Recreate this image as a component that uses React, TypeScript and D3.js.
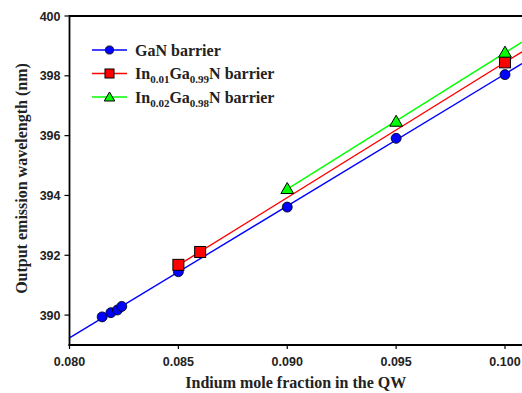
import React from 'react';
import * as d3 from 'd3';

// data
const ganX = [0.0815, 0.0819, 0.0822, 0.0824, 0.085, 0.090, 0.095, 0.100];
const ganY = [389.94, 390.08, 390.17, 390.29, 391.45, 393.61, 395.91, 398.04];
const in01X = [0.085, 0.086, 0.100];
const in01Y = [391.68, 392.11, 398.45];
const in02X = [0.090, 0.095, 0.100];
const in02Y = [394.22, 396.47, 398.78];
const xTicks = [0.080, 0.085, 0.090, 0.095, 0.100];
const yTicks = [390, 392, 394, 396, 398, 400];

const W = 522, H = 393;
const m = { left: 69.5, top: 16, right: 0, bottom: 48 };

type Series = { xs: number[]; ys: number[]; color: string; shape: string; sub: string[] | null; from: number | null };

const series: Series[] = [
  { xs: ganX, ys: ganY, color: '#0000ff', shape: 'circle', sub: null, from: null },
  { xs: in01X, ys: in01Y, color: '#ff0000', shape: 'square', sub: ['0.01', '0.99'], from: 0.085 },
  { xs: in02X, ys: in02Y, color: '#00ff00', shape: 'triangle', sub: ['0.02', '0.98'], from: 0.090 },
];

// least squares fit
function fit(xs: number[], ys: number[]) {
  const mx = d3.mean(xs)!, my = d3.mean(ys)!;
  const sxy = d3.sum(xs, (x, i) => (x - mx) * (ys[i] - my));
  const sxx = d3.sum(xs, x => (x - mx) * (x - mx));
  const b = sxy / sxx;
  return (x: number) => my + b * (x - mx);
}

function Marker({ shape, x, y, s }: { shape: string; x: number; y: number; s: number }) {
  if (shape === 'circle')
    return <circle cx={x} cy={y} r={5 * s} fill="#0000ff" stroke="#000" strokeWidth={0.8} />;
  if (shape === 'square')
    return <rect x={x - 5.5 * s} y={y - 5.5 * s} width={11 * s} height={11 * s} fill="#ff0000" stroke="#000" strokeWidth={1} />;
  const sym = d3.symbol().type(d3.symbolTriangle).size(70 * s * s)();
  return <path d={sym || ''} transform={`translate(${x},${y + 1})`} fill="#00ff00" stroke="#000" strokeWidth={1} />;
}

export default function App() {
  const x = d3.scaleLinear().domain([0.080, 0.10078]).range([m.left, W - m.right]);
  const y = d3.scaleLinear().domain([389, 400]).range([H - m.bottom, m.top]);
  const x0 = x.domain()[0], x1 = x.domain()[1];
  const line = d3.line<[number, number]>().x(d => x(d[0])).y(d => y(d[1]));
  const serif = '"Liberation Serif", "Times New Roman", serif';
  const sans = '"Liberation Sans", Arial, sans-serif';
  const bottom = H - m.bottom;

  return (
    <svg width={W} height={H} style={{ position: 'absolute', left: 0, top: 0, background: '#fff' }}>
      <defs>
        <clipPath id="plot"><rect x={m.left} y={m.top} width={W - m.left} height={bottom - m.top} /></clipPath>
      </defs>
      <g clipPath="url(#plot)">
        {series.map((s, i) => {
          const f = fit(s.xs, s.ys);
          const start = s.from === null ? x0 : s.from;
          return <path key={i} d={line([[start, f(start)], [x1, f(x1)]]) || ''} stroke={s.color} strokeWidth={1.4} fill="none" />;
        })}
      </g>
      {series.map((s, i) => (
        <g key={i}>
          {s.xs.map((v, j) => <Marker key={j} shape={s.shape} x={x(v)} y={y(s.ys[j])} s={1} />)}
        </g>
      ))}
      {/* axes */}
      <line x1={m.left} x2={W} y1={m.top} y2={m.top} stroke="#000" strokeWidth={1.8} />
      <line x1={m.left} x2={m.left} y1={m.top - 1} y2={bottom + 1} stroke="#000" strokeWidth={1.8} />
      <line x1={m.left - 1} x2={W} y1={bottom} y2={bottom} stroke="#000" strokeWidth={1.8} />
      {yTicks.map(t => (
        <g key={t}>
          <line x1={m.left - 5} x2={m.left} y1={y(t)} y2={y(t)} stroke="#000" strokeWidth={1.2} />
          <text x={m.left - 9} y={y(t)} dy="0.36em" textAnchor="end" fontFamily={sans} fontWeight="bold" fontSize={12.5} fill="#222">{t}</text>
        </g>
      ))}
      {xTicks.map(t => (
        <g key={t}>
          <line x1={x(t)} x2={x(t)} y1={bottom} y2={bottom + 4} stroke="#000" strokeWidth={1.2} />
          <text x={x(t)} y={bottom + 21} textAnchor="middle" fontFamily={sans} fontWeight="bold" fontSize={12.5} fill="#222">{t.toFixed(3)}</text>
        </g>
      ))}
      <text x={(m.left + W) / 2} y={388} textAnchor="middle" fontFamily={serif} fontWeight="bold" fontSize={16} fill="#222">Indium mole fraction in the QW</text>
      <text transform={`translate(27,${(m.top + bottom) / 2 - 2}) rotate(-90)`} textAnchor="middle" fontFamily={serif} fontWeight="bold" fontSize={16} fill="#222">Output emission wavelength (nm)</text>
      {/* legend */}
      {series.map((s, i) => {
        const ly = 50 + i * 23.5;
        return (
          <g key={i}>
            <line x1={92} x2={127} y1={ly} y2={ly} stroke={s.color} strokeWidth={1.4} />
            <Marker shape={s.shape} x={109.5} y={ly} s={0.82} />
            <text x={135} y={ly + 5.5} fontFamily={serif} fontWeight="bold" fontSize={16} fill="#222">
              {s.sub === null ? 'GaN barrier' : (
                <>
                  In<tspan fontSize={11} dy={4}>{s.sub[0]}</tspan>
                  <tspan dy={-4}>Ga</tspan><tspan fontSize={11} dy={4}>{s.sub[1]}</tspan>
                  <tspan dy={-4}>N barrier</tspan>
                </>
              )}
            </text>
          </g>
        );
      })}
    </svg>
  );
}
